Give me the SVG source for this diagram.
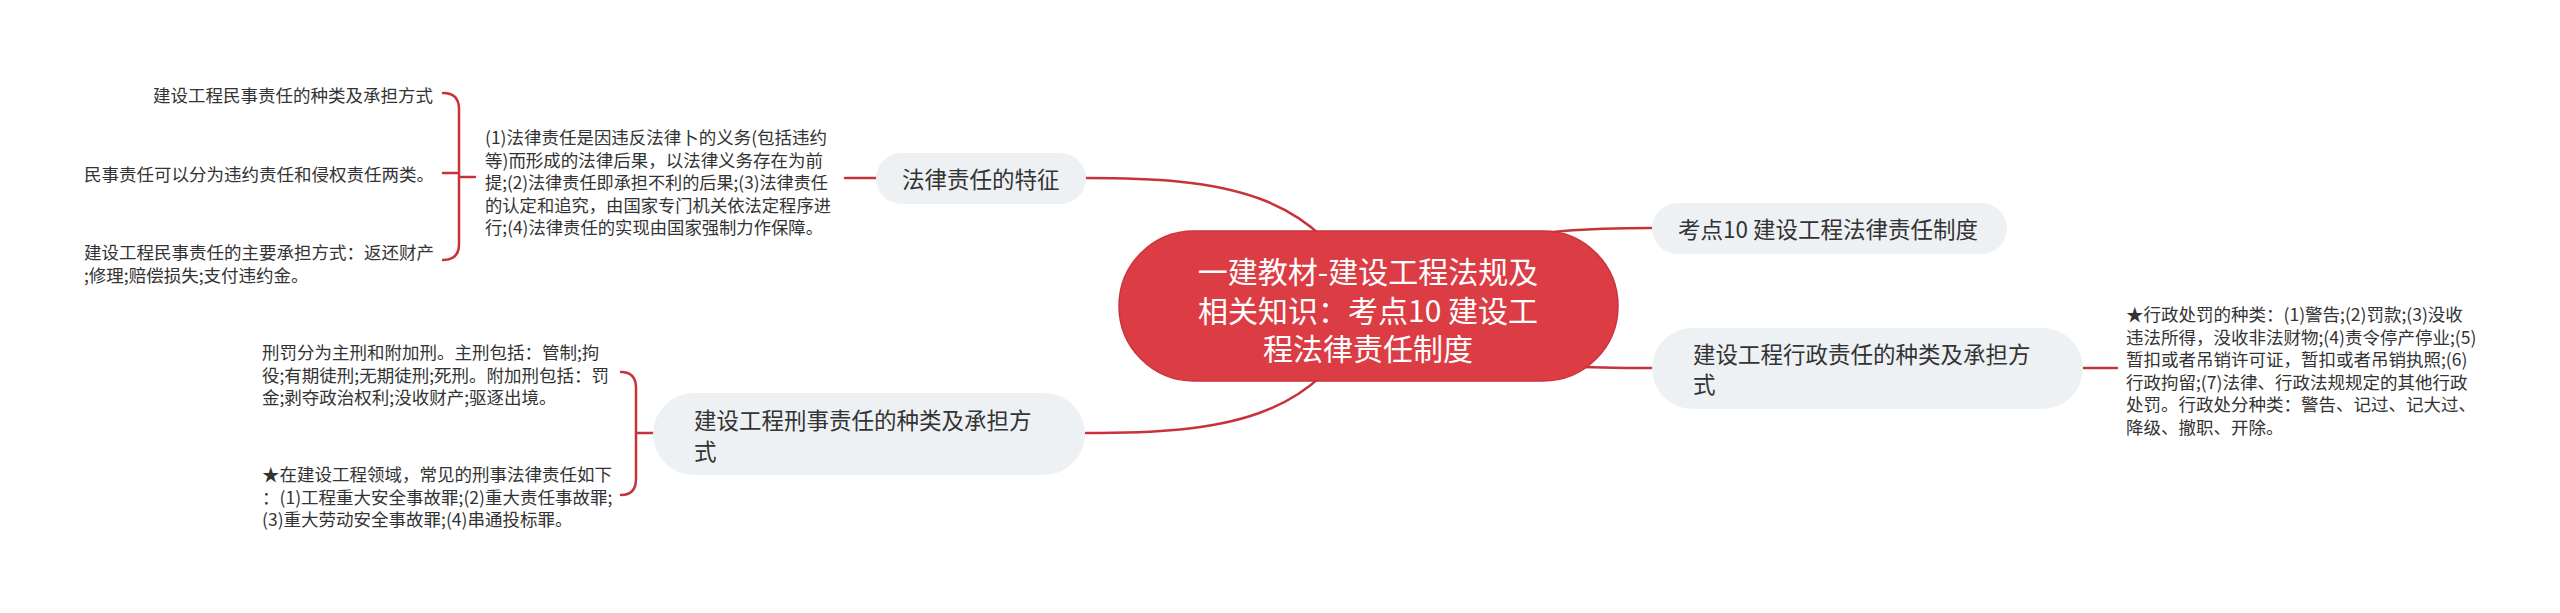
<svg xmlns="http://www.w3.org/2000/svg" width="2560" height="613" viewBox="0 0 2560 613">
<style>
.bg{fill:#ffffff}
.conn{fill:none;stroke:#c8323b;stroke-width:2.5;stroke-linecap:round}
.root{fill:#dc3d45;stroke:#c9333b;stroke-width:1.5}
.node{fill:#eef1f4}
.rt{font-family:"Noto Sans CJK SC","Noto Sans",sans-serif;font-size:30px;fill:#ffffff;text-anchor:middle;dominant-baseline:central}
.nt{font-family:"Noto Sans CJK SC","Noto Sans",sans-serif;font-size:22.5px;fill:#333333;dominant-baseline:central}
.lt{font-family:"Noto Sans CJK SC","Noto Sans",sans-serif;font-size:17.5px;fill:#333333;dominant-baseline:central}
</style>
<rect class="bg" x="0" y="0" width="2560" height="613"/>
<g id="connectors">
  <path class="conn" d="M1368 306 C1320 190 1220 178 1086 178"/>
  <path class="conn" d="M1368 306 C1320 422 1220 433 1086 433"/>
  <path class="conn" d="M1368 306 C1450 240 1520 228 1652 228"/>
  <path class="conn" d="M1368 306 C1450 360 1520 368 1652 368"/>
  <path class="conn" d="M876 178 H845"/>
  <path class="conn" d="M475 177 H459 M443 93 Q459 93 459 109 V244 Q459 260 443 260 M443 173 H459"/>
  <path class="conn" d="M653 433 H636 M621 372 Q636 372 636 388 V479 Q636 495 621 495"/>
  <path class="conn" d="M2083 368 H2117"/>
</g>
<g id="root-node">
  <rect class="root" x="1119" y="231" width="499" height="150" rx="75"/>
  <text class="rt"><tspan x="1368" y="270">一建教材-建设工程法规及</tspan><tspan x="1368" y="308.5">相关知识：考点10 建设工</tspan><tspan x="1368" y="347">程法律责任制度</tspan></text>
</g>
<g id="node-falv">
  <rect class="node" x="876" y="153" width="210" height="51" rx="25.5"/>
  <text class="nt" x="902" y="178">法律责任的特征</text>
</g>
<g id="node-kaodian">
  <rect class="node" x="1652" y="203" width="355" height="51" rx="25.5"/>
  <text class="nt" x="1678" y="228">考点10 建设工程法律责任制度</text>
</g>
<g id="node-xingzheng">
  <rect class="node" x="1652" y="328" width="431" height="81" rx="40.5"/>
  <text class="nt"><tspan x="1693" y="353">建设工程行政责任的种类及承担方</tspan><tspan x="1693" y="383">式</tspan></text>
</g>
<g id="node-xingshi">
  <rect class="node" x="653" y="393" width="432" height="82" rx="41"/>
  <text class="nt"><tspan x="694" y="419">建设工程刑事责任的种类及承担方</tspan><tspan x="694" y="450">式</tspan></text>
</g>
<g id="leaf-falv-text">
  <text class="lt"><tspan x="485" y="136" textLength="342" lengthAdjust="spacingAndGlyphs">(1)法律责任是因违反法律卜的义务(包括违约</tspan><tspan x="485" y="158.5" textLength="338" lengthAdjust="spacingAndGlyphs">等)而形成的法律后果，以法律义务存在为前</tspan><tspan x="485" y="181" textLength="343" lengthAdjust="spacingAndGlyphs">提;(2)法律责任即承担不利的后果;(3)法律责任</tspan><tspan x="485" y="203.5" textLength="346" lengthAdjust="spacingAndGlyphs">的认定和追究，由国家专门机关依法定程序进</tspan><tspan x="485" y="226" textLength="338" lengthAdjust="spacingAndGlyphs">行;(4)法律责任的实现由国家强制力作保障。</tspan></text>
</g>
<g id="leaf-minshi-1">
  <text class="lt" x="433" y="94" text-anchor="end">建设工程民事责任的种类及承担方式</text>
</g>
<g id="leaf-minshi-2">
  <text class="lt" x="84" y="173">民事责任可以分为违约责任和侵权责任两类。</text>
</g>
<g id="leaf-minshi-3">
  <text class="lt"><tspan x="84" y="251">建设工程民事责任的主要承担方式：返还财产</tspan><tspan x="84" y="273.5">;修理;赔偿损失;支付违约金。</tspan></text>
</g>
<g id="leaf-xingzheng-text">
  <text class="lt"><tspan x="2126" y="313">★行政处罚的种类：(1)警告;(2)罚款;(3)没收</tspan><tspan x="2126" y="335.5">违法所得，没收非法财物;(4)责令停产停业;(5)</tspan><tspan x="2126" y="358">暂扣或者吊销许可证，暂扣或者吊销执照;(6)</tspan><tspan x="2126" y="380.5">行政拘留;(7)法律、行政法规规定的其他行政</tspan><tspan x="2126" y="403">处罚。行政处分种类：警告、记过、记大过、</tspan><tspan x="2126" y="425.5">降级、撤职、开除。</tspan></text>
</g>
<g id="leaf-xingshi-1">
  <text class="lt"><tspan x="262" y="351">刑罚分为主刑和附加刑。主刑包括：管制;拘</tspan><tspan x="262" y="373.5">役;有期徒刑;无期徒刑;死刑。附加刑包括：罚</tspan><tspan x="262" y="396">金;剥夺政治权利;没收财产;驱逐出境。</tspan></text>
</g>
<g id="leaf-xingshi-2">
  <text class="lt"><tspan x="262" y="473">★在建设工程领域，常见的刑事法律责任如下</tspan><tspan x="262" y="495.5">：(1)工程重大安全事故罪;(2)重大责任事故罪;</tspan><tspan x="262" y="518">(3)重大劳动安全事故罪;(4)串通投标罪。</tspan></text>
</g>
</svg>
